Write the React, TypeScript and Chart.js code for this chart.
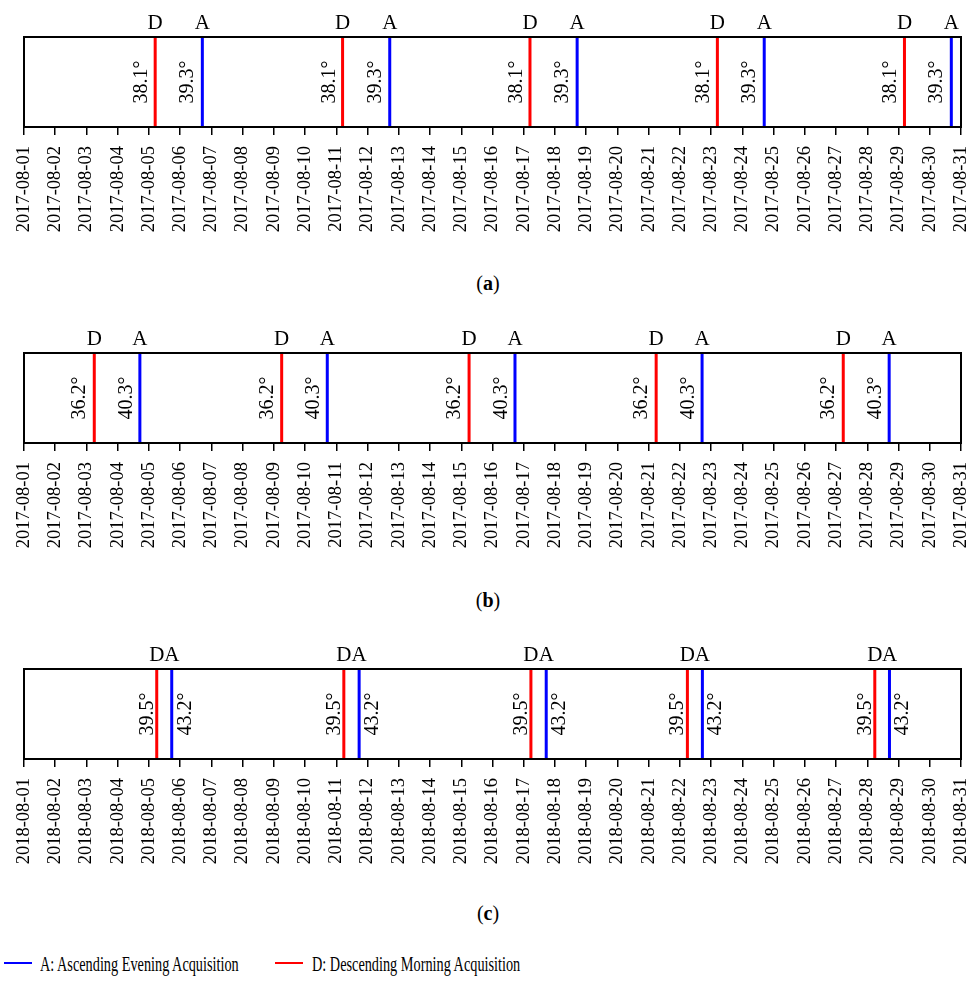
import React, { useEffect, useRef } from 'react';
import { Chart, registerables } from 'chart.js';

Chart.register(...registerables);

// ---- tick labels ----
const ticks2017 = [
  '2017-08-01', '2017-08-02', '2017-08-03', '2017-08-04', '2017-08-05', '2017-08-06', '2017-08-07', '2017-08-08',
  '2017-08-09', '2017-08-10', '2017-08-11', '2017-08-12', '2017-08-13', '2017-08-14', '2017-08-15', '2017-08-16',
  '2017-08-17', '2017-08-18', '2017-08-19', '2017-08-20', '2017-08-21', '2017-08-22', '2017-08-23', '2017-08-24',
  '2017-08-25', '2017-08-26', '2017-08-27', '2017-08-28', '2017-08-29', '2017-08-30', '2017-08-31',
];
const ticks2018 = [
  '2018-08-01', '2018-08-02', '2018-08-03', '2018-08-04', '2018-08-05', '2018-08-06', '2018-08-07', '2018-08-08',
  '2018-08-09', '2018-08-10', '2018-08-11', '2018-08-12', '2018-08-13', '2018-08-14', '2018-08-15', '2018-08-16',
  '2018-08-17', '2018-08-18', '2018-08-19', '2018-08-20', '2018-08-21', '2018-08-22', '2018-08-23', '2018-08-24',
  '2018-08-25', '2018-08-26', '2018-08-27', '2018-08-28', '2018-08-29', '2018-08-30', '2018-08-31',
];

// ---- acquisition times (day of month, fractional) ----
const descA = [5.2, 11.2, 17.2, 23.2, 29.19];
const ascA = [6.71, 12.71, 18.71, 24.7, 30.69];
const descAnglesA = [38.1, 38.1, 38.1, 38.1, 38.1];
const ascAnglesA = [39.3, 39.3, 39.3, 39.3, 39.3];

const descB = [3.25, 9.25, 15.25, 21.24, 27.23];
const ascB = [4.71, 10.71, 16.72, 22.71, 28.7];
const descAnglesB = [36.2, 36.2, 36.2, 36.2, 36.2];
const ascAnglesB = [40.3, 40.3, 40.3, 40.3, 40.3];

const descC = [5.25, 11.24, 17.23, 22.24, 28.24];
const ascC = [5.73, 11.73, 17.72, 22.72, 28.71];
const descAnglesC = [39.5, 39.5, 39.5, 39.5, 39.5];
const ascAnglesC = [43.2, 43.2, 43.2, 43.2, 43.2];

const BLUE = '#0000ff';
const RED = '#ff0000';
const SERIF = '"Liberation Serif", "Times New Roman", serif';

type PanelProps = {
  top: number;
  ticks: string[];
  desc: number[];
  asc: number[];
  descAngles: number[];
  ascAngles: number[];
  descOffset: number;
  ascOffset: number;
};

function Panel(p: PanelProps) {
  const ref = useRef<HTMLCanvasElement>(null);

  useEffect(() => {
    const toSegments = (xs: number[]) =>
      xs.flatMap((x) => [
        { x, y: 0 },
        { x, y: 1 },
        { x, y: null },
      ]);

    const labelPlugin = {
      id: 'markLabels',
      afterDatasetsDraw(chart: any) {
        const { ctx, chartArea } = chart;
        const xs = chart.scales.x;
        const midY = (chartArea.top + chartArea.bottom) / 2;
        const groups = [
          { vals: p.desc, letter: 'D', angles: p.descAngles, off: p.descOffset },
          { vals: p.asc, letter: 'A', angles: p.ascAngles, off: p.ascOffset },
        ];
        ctx.save();
        ctx.fillStyle = '#000';
        groups.forEach((g) =>
          g.vals.forEach((v, i) => {
            const px = xs.getPixelForValue(v);
            ctx.font = `21px ${SERIF}`;
            ctx.textAlign = 'center';
            ctx.textBaseline = 'alphabetic';
            ctx.fillText(g.letter, px, chartArea.top - 8);
            ctx.save();
            ctx.translate(px + g.off, midY);
            ctx.rotate(-Math.PI / 2);
            ctx.font = `20px ${SERIF}`;
            ctx.textAlign = 'center';
            ctx.textBaseline = 'alphabetic';
            ctx.fillText(`${g.angles[i].toFixed(1)}°`, 0, 0);
            ctx.restore();
          })
        );
        ctx.restore();
      },
    };

    const boxPlugin = {
      id: 'frameBox',
      afterDraw(chart: any) {
        const { ctx, chartArea: a } = chart;
        ctx.save();
        ctx.strokeStyle = '#000';
        ctx.lineWidth = 2;
        ctx.strokeRect(a.left, a.top, a.right - a.left, a.bottom - a.top);
        ctx.restore();
      },
    };

    const chart = new Chart(ref.current as HTMLCanvasElement, {
      type: 'line',
      data: {
        datasets: [
          {
            label: 'A: Ascending Evening Acquisition',
            data: toSegments(p.asc) as any,
            borderColor: BLUE,
            backgroundColor: BLUE,
            borderWidth: 3,
            pointRadius: 0,
            spanGaps: false,
          },
          {
            label: 'D: Descending Morning Acquisition',
            data: toSegments(p.desc) as any,
            borderColor: RED,
            backgroundColor: RED,
            borderWidth: 3,
            pointRadius: 0,
            spanGaps: false,
          },
        ],
      },
      options: {
        responsive: false,
        animation: false,
        devicePixelRatio: 1,
        layout: { padding: { left: 24, right: 6, top: 37, bottom: 13 } },
        plugins: { legend: { display: false }, tooltip: { enabled: false } },
        scales: {
          x: {
            type: 'linear',
            min: 1,
            max: 31,
            border: { display: false },
            grid: {
              display: true,
              drawOnChartArea: false,
              drawTicks: true,
              tickLength: 8,
              color: '#000',
              lineWidth: 1.5,
            },
            ticks: {
              stepSize: 1,
              autoSkip: false,
              maxRotation: 90,
              minRotation: 90,
              padding: 11,
              color: '#000',
              font: { family: SERIF, size: 18.5 },
              callback: (v: any) => p.ticks[Math.round(Number(v)) - 1] ?? '',
            },
            afterFit: (s: any) => {
              s.height = 120;
              s.paddingLeft = 0;
              s.paddingRight = 0;
            },
          },
          y: { display: false, min: 0, max: 1 },
        },
      },
      plugins: [labelPlugin, boxPlugin],
    });
    return () => chart.destroy();
  }, []);

  return (
    <canvas
      ref={ref}
      width={967}
      height={260}
      style={{ position: 'absolute', left: 0, top: p.top, width: 967, height: 260, display: 'block' }}
    />
  );
}

function Caption({ top, letter }: { top: number; letter: string }) {
  return (
    <div
      style={{
        position: 'absolute',
        left: 0,
        top,
        width: 976,
        textAlign: 'center',
        fontFamily: SERIF,
        fontSize: 20,
        lineHeight: '20px',
        color: '#000',
      }}
    >
      (<b>{letter}</b>)
    </div>
  );
}

const legendText = {
  position: 'absolute' as const,
  top: 954,
  fontFamily: SERIF,
  fontSize: 21,
  lineHeight: '21px',
  whiteSpace: 'nowrap' as const,
  transform: 'scaleX(0.68)',
  transformOrigin: 'left center',
  color: '#000',
};

export default function App() {
  return (
    <div
      style={{
        position: 'absolute',
        left: 0,
        top: 0,
        width: 967,
        height: 981,
        background: '#fff',
        overflow: 'hidden',
      }}
    >
      <Panel top={0} ticks={ticks2017} desc={descA} asc={ascA} descAngles={descAnglesA} ascAngles={ascAnglesA} descOffset={-8} ascOffset={-9} />
      <Caption top={273} letter="a" />
      <Panel top={316} ticks={ticks2017} desc={descB} asc={ascB} descAngles={descAnglesB} ascAngles={ascAnglesB} descOffset={-9} ascOffset={-8} />
      <Caption top={590} letter="b" />
      <Panel top={632} ticks={ticks2018} desc={descC} asc={ascC} descAngles={descAnglesC} ascAngles={ascAnglesC} descOffset={-4} ascOffset={19} />
      <Caption top={903} letter="c" />
      <div style={{ position: 'absolute', left: 4, top: 962, width: 28, height: 2, background: BLUE }} />
      <div style={{ ...legendText, left: 40 }}>A: Ascending Evening Acquisition</div>
      <div style={{ position: 'absolute', left: 275, top: 962, width: 28, height: 2, background: RED }} />
      <div style={{ ...legendText, left: 312 }}>D: Descending Morning Acquisition</div>
    </div>
  );
}
